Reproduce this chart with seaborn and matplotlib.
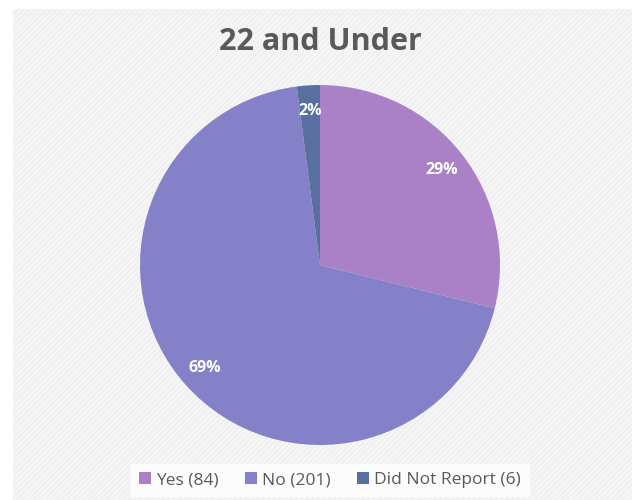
import seaborn as sns
import matplotlib.pyplot as plt
from matplotlib.patches import Rectangle

title = '22 and Under'
categories = ['Yes', 'No', 'Did Not Report']
counts = [84, 201, 6]
colors = ['#AA80C6', '#8581C9', '#586FA0']

sns.set_style('white')
plt.rcParams['font.family'] = ['Open Sans', 'DejaVu Sans']
plt.rcParams['hatch.linewidth'] = 0.6

fig = plt.figure(figsize=(6.32, 5.0), dpi=100)
fig.patch.set_facecolor('white')

# chart area background with faint diagonal texture
bg = Rectangle((13 / 632, 0), 619 / 632, 491 / 500, transform=fig.transFigure,
               facecolor='#f5f5f5', edgecolor='#ebebeb', hatch='//////', lw=0, zorder=-10)
fig.patches.append(bg)

ax = fig.add_axes([140 / 632, 55 / 500, 360 / 632, 360 / 500])
ax.set_facecolor('none')

labels = [f'{c} ({n})' for c, n in zip(categories, counts)]
wedges, _, autotexts = ax.pie(counts, colors=colors, startangle=90, counterclock=False,
                              autopct=lambda p: f'{p:.0f}%', pctdistance=0.86,
                              radius=1, wedgeprops=dict(linewidth=0))
for t in autotexts:
    t.set_color('white')
    t.set_fontweight('bold')
    t.set_fontsize(11.5)
ax.set_xlim(-1, 1)
ax.set_ylim(-1, 1)
ax.set_aspect('equal')

fig.text(320 / 632, 1 - 42 / 500, title, ha='center', va='center',
         fontsize=22, fontweight='bold', color='#595959')

leg = fig.legend(wedges, labels, loc='center', bbox_to_anchor=(330 / 632, 1 - 480 / 500),
                 ncol=3, frameon=True, fontsize=12.5, handlelength=0.7, handleheight=0.7,
                 handletextpad=0.3, columnspacing=1.5, borderpad=0.45, fancybox=False)
leg.get_frame().set_facecolor('white')
leg.get_frame().set_edgecolor('white')
for t in leg.get_texts():
    t.set_color('#595959')

fig.savefig('out.png', dpi=100)
